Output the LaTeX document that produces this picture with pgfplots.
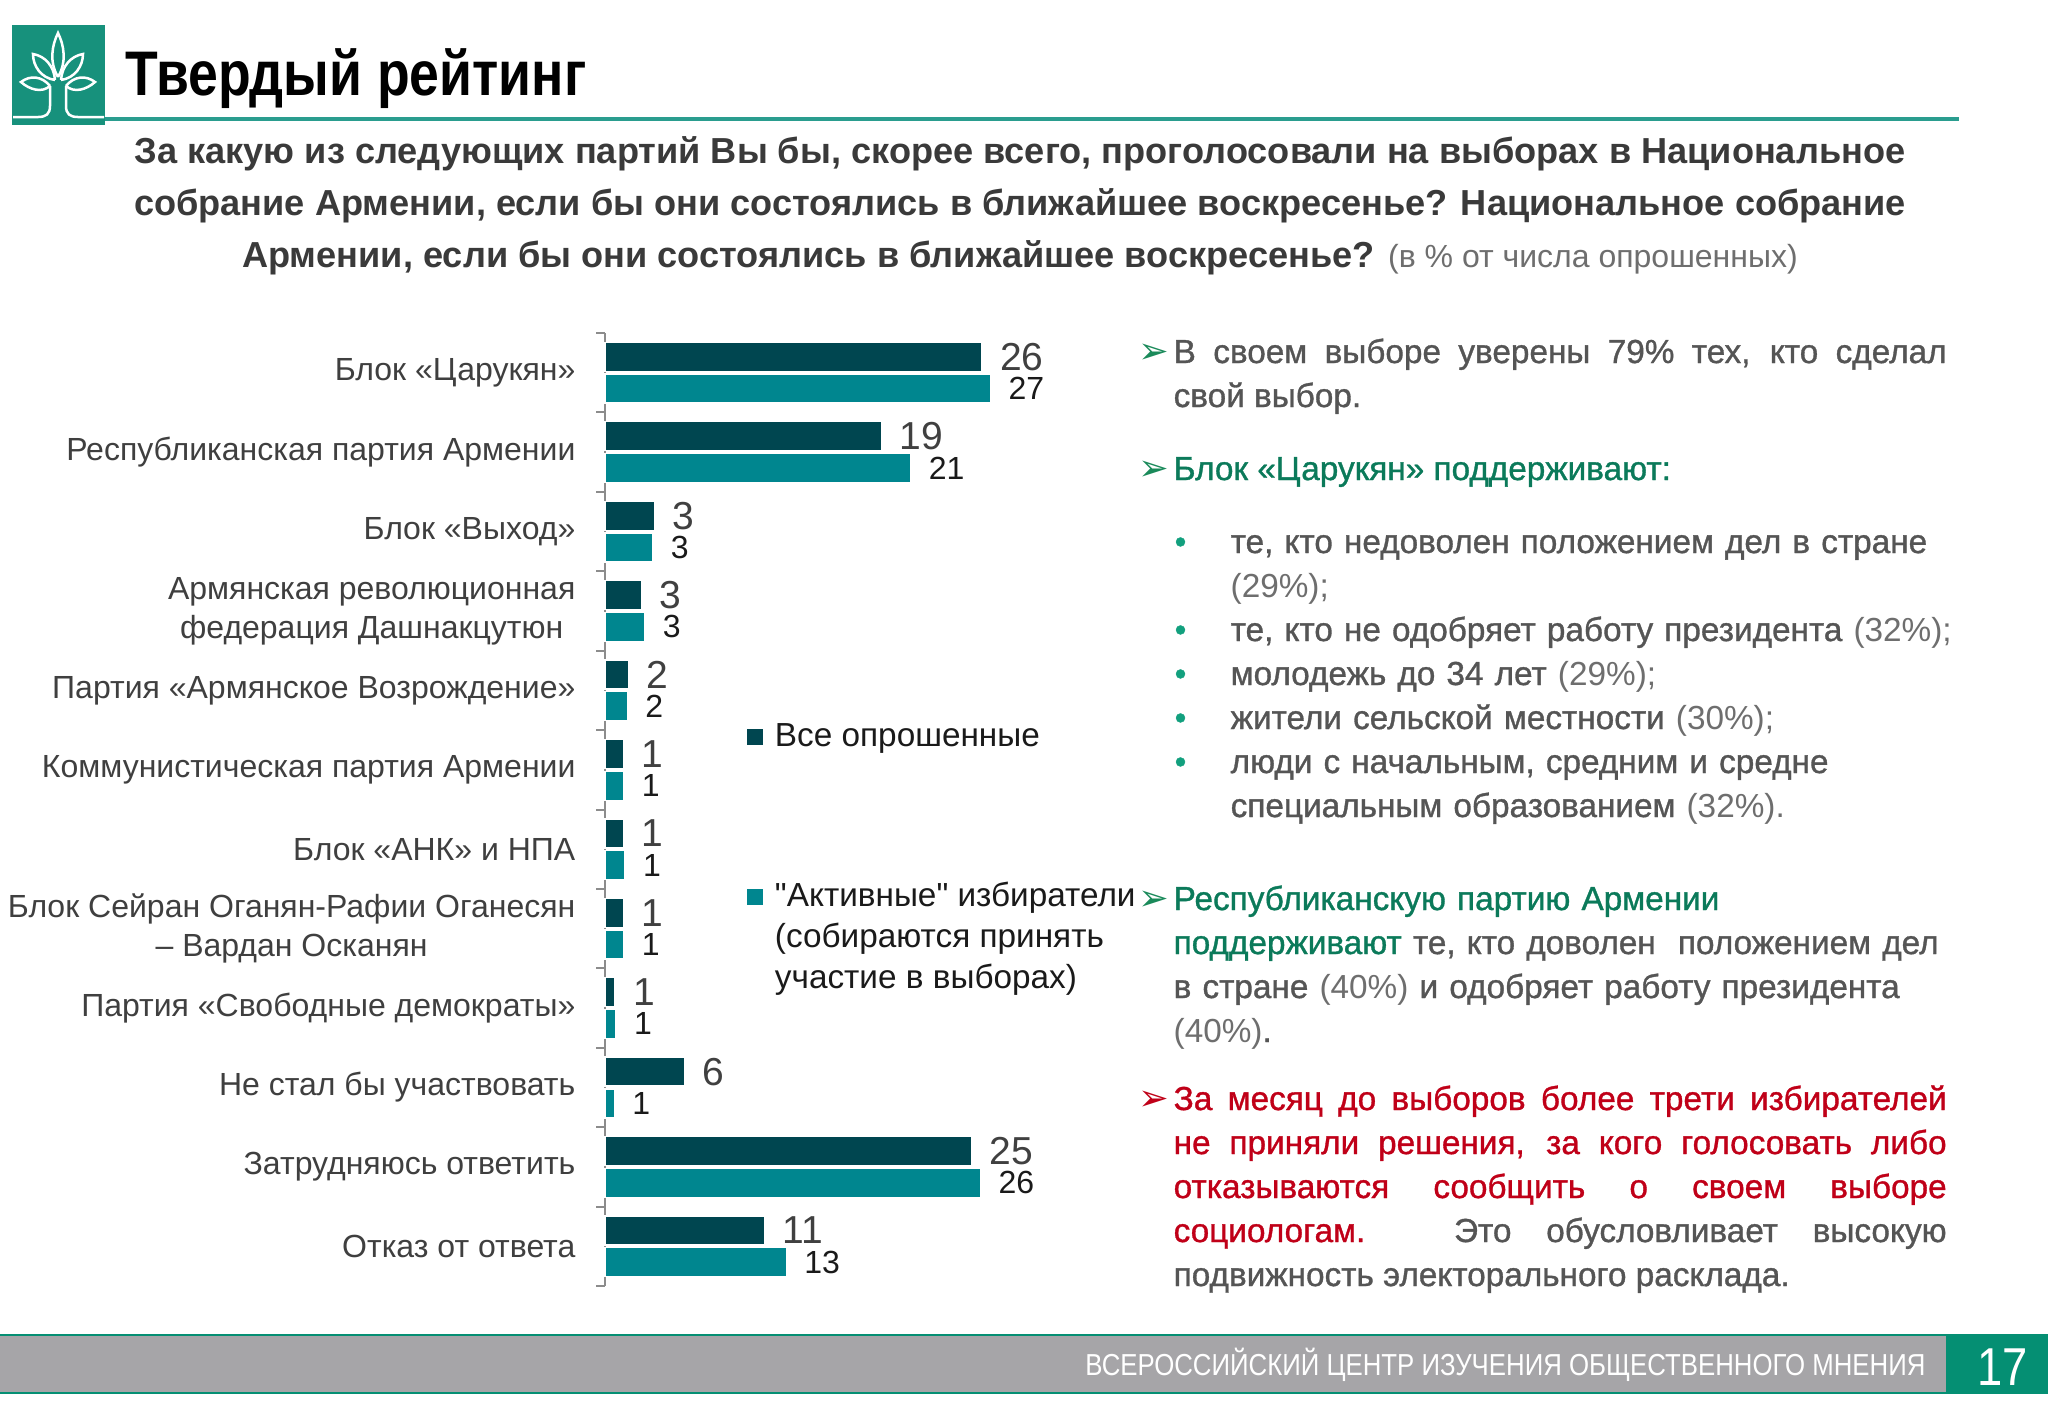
\documentclass[border=0pt]{standalone}
\usepackage{fontspec}
\setmainfont{Liberation Sans}
\newfontfamily\titlefont[FakeStretch=0.85]{Liberation Sans}
\newfontfamily\medfont[FakeBold=1]{Liberation Sans}
\newfontfamily\narrowfont[FakeStretch=0.85]{Liberation Sans}
\newfontfamily\symfont{DejaVu Sans}
\newfontfamily\plainfont[Ligatures=NoCommon]{Liberation Sans}
\usepackage{pgfplots}
\usepackage{pgfplotstable}
\pgfplotsset{compat=1.18}

\definecolor{logogreen}{HTML}{17917C}
\definecolor{titleline}{HTML}{2A9D8F}
\definecolor{qgray}{HTML}{3A3A3A}
\definecolor{labelgray}{HTML}{3F3F3F}
\definecolor{axisgray}{HTML}{8C8C8C}
\definecolor{darkteal}{HTML}{004650}
\definecolor{lightteal}{HTML}{00868F}
\definecolor{dlabel}{HTML}{404040}
\definecolor{llabel}{HTML}{1A1A1A}
\definecolor{textgray}{HTML}{555555}
\definecolor{pctgray}{HTML}{6E6E6E}
\definecolor{txtgreen}{HTML}{0B7A5A}
\definecolor{arrowgreen}{HTML}{1A8A5A}
\definecolor{bulletgreen}{HTML}{12A07E}
\definecolor{txtred}{HTML}{C00018}
\definecolor{footgray}{HTML}{A6A5A8}
\definecolor{footgreen}{HTML}{058F73}

\newcommand\pct[1]{{\normalfont\color{pctgray}#1}}

\pgfplotstableread{
v y l
26.0 -0.2 26
19.1 0.8 19
3.4 1.8 3
2.5 2.8 3
1.65 3.8 2
1.26 4.8 1
1.26 5.8 1
1.26 6.8 1
0.69 7.8 1
5.5 8.8 6
25.3 9.8 25
11.0 10.8 11
}\darkdata

\pgfplotstableread{
v y l
26.6 0.2 27
21.1 1.2 21
3.3 2.2 3
2.75 3.2 3
1.55 4.2 2
1.3 5.2 1
1.38 6.2 1
1.3 7.2 1
0.76 8.2 1
0.64 9.2 1
25.9 10.2 26
12.5 11.2 13
}\lightdata

\begin{document}
\begin{tikzpicture}[x=0.3pt,y=0.3pt]
\useasboundingbox (0,0) rectangle (2048,1418);
\fill[white] (0,0) rectangle (2048,1418);

\begin{scope}[y=-0.3pt, yshift=425.4pt]
% logo
\fill[logogreen] (12,25) rectangle (105,125);
\begin{scope}[draw=white, line width=0.75pt]
\draw (58,77) .. controls (49,62) and (52,45) .. (58,33) .. controls (64,45) and (67,62) .. (58,77);
\draw (55,80) .. controls (41,78) and (33,66) .. (33,54) .. controls (45,56) and (54,66) .. (55,80);
\draw (61,80) .. controls (75,78) and (83,66) .. (83,54) .. controls (71,56) and (62,66) .. (61,80);
\draw (50,86) .. controls (42,76) and (30,75) .. (21,82) .. controls (30,90) and (42,93) .. (50,86);
\draw (66,86) .. controls (74,76) and (86,75) .. (95,82) .. controls (86,90) and (74,93) .. (66,86);
\draw (50,86) -- (50,106) .. controls (50,114) and (46,117) .. (38,117) -- (13,117);
\draw (66,86) -- (66,106) .. controls (66,114) and (70,117) .. (78,117) -- (104,117);
\end{scope}
\fill[titleline] (105,117) rectangle (1959,121);

% title
\node[anchor=base west, inner sep=0pt, font=\titlefont\bfseries\fontsize{18.9}{22}\selectfont] at (125,95) {Твердый рейтинг};

% question
\begin{scope}[every node/.style={anchor=base, inner sep=0pt, text=qgray, font=\bfseries\fontsize{10.85}{12}\selectfont}]
\node at (1020,163) {За какую из следующих партий Вы бы, скорее всего, проголосовали на выборах в Национальное};
\node at (1020,215) {собрание Армении, если бы они состоялись в ближайшее воскресенье? Национальное собрание};
\node at (1020,267) {Армении, если бы они состоялись в ближайшее воскресенье? {\mdseries\fontsize{9.6}{12}\selectfont\color{pctgray}(в \% от числа опрошенных)}};
\end{scope}

% right text
\begin{scope}[every node/.style={inner sep=0pt, font=\medfont\fontsize{10}{13.2}\selectfont, text=textgray}]
\node[anchor=base west, text=arrowgreen, font=\symfont\fontsize{11}{13}\selectfont] at (1138,363) {➢};
\node[anchor=base west, text width=231.9pt, align=justify] at (1173,363) {В своем выборе уверены 79\% тех, кто сделал\linebreak свой выбор.};
\node[anchor=base west, text=arrowgreen, font=\symfont\fontsize{11}{13}\selectfont] at (1138,480) {➢};
\node[anchor=base west, text=txtgreen] at (1173,480) {Блок «Царукян» поддерживают:};
\foreach \yy in {553,641,685,729,773} {
  \node[anchor=base west, text=bulletgreen] at (1174,\yy) {•};
}
\node[anchor=base west, text width=260pt, align=left] at (1230,553) {те, кто недоволен положением дел в стране\\\pct{(29\%);}\\те, кто не одобряет работу президента \pct{(32\%);}\\молодежь до 34 лет \pct{(29\%);}\\жители сельской местности \pct{(30\%);}\\люди с начальным, средним и средне\\специальным образованием \pct{(32\%).}};
\node[anchor=base west, text=arrowgreen, font=\symfont\fontsize{11}{13}\selectfont] at (1138,910) {➢};
\node[anchor=base west, text width=260pt, align=left] at (1173,910) {{\color{txtgreen}Республиканскую партию Армении}\\{\color{txtgreen}поддерживают} те, кто доволен\ \ положением дел\\в стране \pct{(40\%)} и одобряет работу президента\\\pct{(40\%)}.};
\node[anchor=base west, text=txtred, font=\symfont\fontsize{11}{13}\selectfont] at (1138,1110) {➢};
\node[anchor=base west, text width=231.9pt, align=justify, text=txtred] at (1173,1110) {За месяц до выборов более трети избирателей\linebreak не приняли решения, за кого голосовать либо\linebreak отказываются сообщить о своем выборе\linebreak социологам. {\color{textgray}Это обусловливает высокую\linebreak подвижность электорального расклада.}};
\end{scope}

% footer
\fill[footgray] (0,1335) rectangle (1946,1393);
\draw[footgreen, line width=0.6pt] (0,1335) -- (1946,1335);
\draw[footgreen, line width=0.6pt] (0,1393) -- (1946,1393);
\fill[footgreen] (1946,1334) rectangle (2048,1394);
\node[anchor=base east, inner sep=0pt, text=white, font=\narrowfont\fontsize{9.1}{11}\selectfont] at (1926,1375) {ВСЕРОССИЙСКИЙ ЦЕНТР ИЗУЧЕНИЯ ОБЩЕСТВЕННОГО МНЕНИЯ};
\node[anchor=base west, inner sep=0pt, text=white, font=\narrowfont\fontsize{16}{18}\selectfont] at (1977,1385) {17};
\end{scope}

% chart
\coordinate (axpos) at (605,132);
\begin{axis}[
  at={(axpos)}, anchor=south west,
  scale only axis, width=130.5pt, height=285.9pt,
  xmin=0, xmax=30, ymin=-0.5, ymax=11.5,
  y dir=reverse, enlargelimits=false, clip=false,
  xbar, bar width=8.7pt,
  axis x line=none, axis y line*=left,
  y axis line style={draw=axisgray, line width=0.6pt},
  xtick=\empty,
  ytick={0,...,11},
  yticklabels={{Блок «Царукян»},{Республиканская партия Армении},{Блок «Выход»},{Армянская революционная\\федерация Дашнакцутюн},{Партия «Армянское Возрождение»},{Коммунистическая партия Армении},{Блок «АНК» и НПА},{Блок Сейран Оганян-Рафии Оганесян\\– Вардан Осканян},{Партия «Свободные демократы»},{Не стал бы участвовать},{Затрудняюсь ответить},{Отказ от ответа}},
  yticklabel style={font=\fontsize{9.6}{11.7}\selectfont, text=labelgray, align=center, inner sep=0pt, xshift=-8.7pt},
  major tick length=0pt,
  minor ytick={-0.5,0.5,...,11.5},
  minor tick length=2.7pt,
  tick align=outside,
  minor tick style={draw=axisgray, line width=0.6pt},
  point meta=explicit symbolic,
  nodes near coords={\pgfplotspointmeta},
  legend image code/.code={\draw[#1,draw=none] (0pt,-2.4pt) rectangle (4.8pt,2.4pt);},
  legend cell align=left,
  legend style={at={(0.3264,0.5923)}, anchor=north west, draw=none, fill=none,
    inner sep=0pt, outer sep=0pt, row sep=39pt, column sep=3.6pt,
    font=\fontsize{10}{12.3}\selectfont, text=llabel, nodes={inner sep=0pt}},
]
\addplot[fill=darkteal, draw=white, line width=0.4pt, bar shift=0pt,
  every node near coord/.append style={anchor=west, inner sep=0pt, xshift=5.2pt, yshift=0pt, text=dlabel, font=\fontsize{11.7}{14}\selectfont}]
  table[x=v, y=y, meta=l] {\darkdata};
\addlegendentry{\raisebox{0pt}[7.5pt][0pt]{Все опрошенные}}
\addplot[fill=lightteal, draw=white, line width=0.4pt, bar shift=0pt,
  every node near coord/.append style={anchor=west, inner sep=0pt, xshift=5.2pt, yshift=0pt, text=llabel, font=\fontsize{9.6}{12}\selectfont}]
  table[x=v, y=y, meta=l] {\lightdata};
\addlegendentry{\raisebox{0pt}[7.5pt][0pt]{\begin{tabular}[t]{@{}l@{}}{\plainfont\char"22}Активные{\plainfont\char"22} избиратели\\(собираются принять\\участие в выборах)\end{tabular}}}
\end{axis}
\end{tikzpicture}
\end{document}
